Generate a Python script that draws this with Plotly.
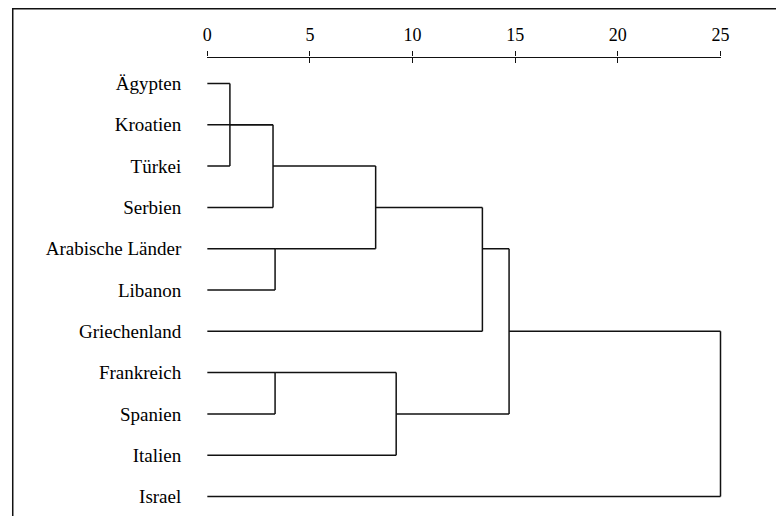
import plotly.graph_objects as go

# ---- data ----
leaves = ["Ägypten", "Kroatien", "Türkei", "Serbien", "Arabische Länder", "Libanon",
          "Griechenland", "Frankreich", "Spanien", "Italien", "Israel"]
# merges: (member a, member b, rescaled distance); "m#" refers to an earlier merge
merge_a = ["Ägypten", "m0", "m1", "Arabische Länder", "m2", "m4", "Frankreich", "m6", "m5", "m8"]
merge_b = ["Türkei", "Kroatien", "Serbien", "Libanon", "m3", "Griechenland", "Spanien", "Italien", "m7", "Israel"]
merge_d = [1.1, 3.2, 3.2, 3.3, 8.2, 13.4, 3.3, 9.2, 14.7, 25.0]
tick_vals = [0, 5, 10, 15, 20, 25]

# ---- build dendrogram segments ----
pos = {name: (2 * i, 0.0) for i, name in enumerate(leaves)}  # row, height
xs, ys = [], []
for k, (a, b, d) in enumerate(zip(merge_a, merge_b, merge_d)):
    ra, ha = pos[a]
    rb, hb = pos[b]
    xs += [ha, d, None, hb, d, None, d, d, None]
    ys += [ra, ra, None, rb, rb, None, ra, rb, None]
    mid = (ra + rb) / 2
    pos["m%d" % k] = (int(mid // 2) * 2, d)

# page has an 8px body margin; figure coordinates = window - 8
W, H = 768, 508
OFF = 8
x0px, x25px = 206.7 - OFF, 728.7 - OFF
ppu = (x25px - x0px) / 25.0
pad = 0.5
top_px = 57.5 - OFF
row0_px, row_h = 83.5 - OFF, 20.65
r_top = (top_px - row0_px) / row_h
r_bot = (H - row0_px) / row_h

font = "Liberation Serif, Times New Roman, serif"
ink = "#111111"

fig = go.Figure()
fig.add_trace(go.Scatter(x=xs, y=ys, mode="lines", line=dict(color=ink, width=1.5),
                         hoverinfo="skip", showlegend=False, xaxis="x", yaxis="y"))
fig.add_trace(go.Scatter(x=tick_vals, y=[None] * len(tick_vals), mode="lines",
                         showlegend=False, hoverinfo="skip", xaxis="x2", yaxis="y"))
fig.add_trace(go.Scatter(x=tick_vals, y=[None] * len(tick_vals), mode="lines",
                         showlegend=False, hoverinfo="skip", xaxis="x3", yaxis="y"))

fig.update_layout(
    width=W, height=H,
    margin=dict(l=0, r=0, t=0, b=0),
    paper_bgcolor="white", plot_bgcolor="rgba(0,0,0,0)",
    showlegend=False,
    xaxis=dict(domain=[(x0px - pad * ppu) / W, (x25px + pad * ppu) / W],
               range=[-pad, 25 + pad], visible=False, anchor="y"),
    xaxis2=dict(domain=[x0px / W, x25px / W], range=[0, 25], anchor="y", side="top",
                showline=True, linecolor=ink, linewidth=1.3,
                ticks="outside", ticklen=5, tickwidth=1.3, tickcolor=ink,
                tickvals=tick_vals, ticktext=[str(v) for v in tick_vals],
                ticklabelstandoff=3,
                tickfont=dict(family=font, size=18, color="black"),
                showgrid=False, zeroline=False),
    xaxis3=dict(domain=[x0px / W, x25px / W], range=[0, 25], anchor="y", side="top",
                showline=False, ticks="inside", ticklen=5, tickwidth=1.3, tickcolor=ink,
                tickvals=tick_vals, showticklabels=False,
                showgrid=False, zeroline=False),
    yaxis=dict(domain=[0, 1 - top_px / H], range=[r_bot, r_top], anchor="x",
               tickvals=[2 * i for i in range(len(leaves))], ticktext=leaves,
               ticks="outside", ticklen=11, tickcolor="rgba(0,0,0,0)",
               tickfont=dict(family=font, size=19, color="black"),
               showline=False, showgrid=False, zeroline=False),
    shapes=[dict(type="rect", xref="paper", yref="paper",
                 x0=0.75 / W, x1=1.05, y0=-0.05, y1=1 - 0.75 / H,
                 line=dict(color=ink, width=1.5))],
)

fig.write_html("out.html")
